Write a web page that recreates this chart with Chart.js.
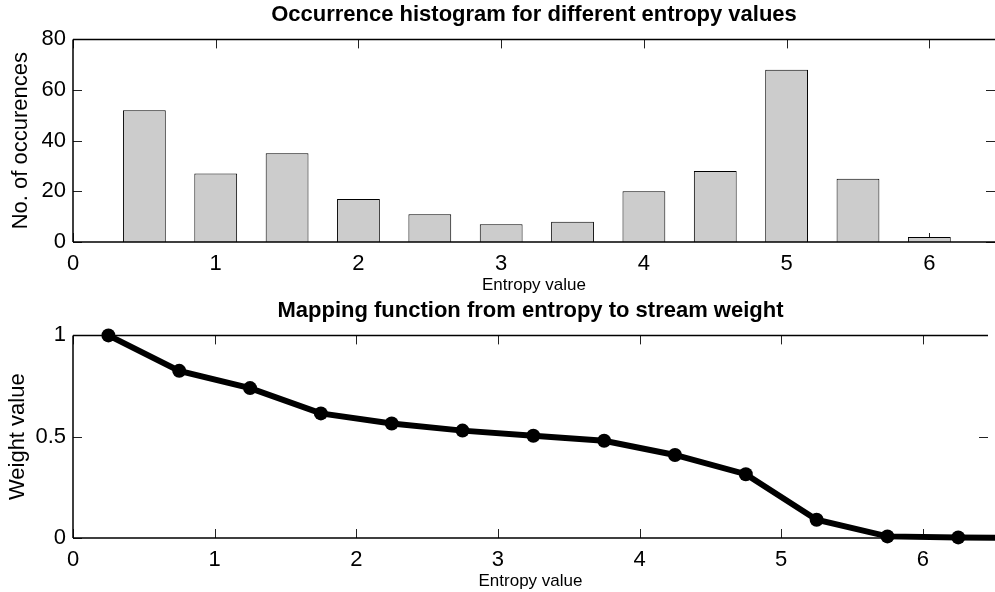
<!DOCTYPE html>
<html>
<head>
<meta charset="utf-8">
<script src="https://cdn.jsdelivr.net/npm/chart.js@4"></script>
<style>
  html, body { margin: 0; padding: 0; background: #fff; }
  #wrap { position: relative; width: 995px; height: 592px; }
  .painel { position: absolute; left: 0; width: 995px; height: 296px; }
</style>
</head>
<body>
<div id="wrap">
  <div class="painel" style="top:0"><canvas id="g-hist"></canvas></div>
  <div class="painel" style="top:296px"><canvas id="g-peso"></canvas></div>
</div>
<script>
// ===== Dados =====
const centrosHist = [0.5, 1, 1.5, 2, 2.5, 3, 3.5, 4, 4.5, 5, 5.5, 6];
const ocorrencias = [52, 27, 35, 17, 11, 7, 8, 20, 28, 68, 25, 2];

const entropiaPeso = [0.25, 0.75, 1.25, 1.75, 2.25, 2.75, 3.25, 3.75, 4.25, 4.75, 5.25, 5.75, 6.25, 6.75];
const pesos = [1, 0.825, 0.74, 0.615, 0.565, 0.53, 0.505, 0.48, 0.41, 0.315, 0.09, 0.008, 0.003, 0];

const ticksX = [0, 1, 2, 3, 4, 5, 6];
const ticksHist = [0, 20, 40, 60, 80];
const ticksPeso = [0, 0.5, 1];

const FONTE = "'Liberation Sans', Arial, Helvetica, sans-serif";
Chart.defaults.font.family = FONTE;
Chart.defaults.color = "#000";

// ===== Moldura estilo matlab (caixa + ticks para dentro) =====
const moldura = {
  id: "moldura",
  beforeDatasetsDraw(chart) {
    const { ctx, chartArea: a, scales: { x, y } } = chart;
    const T = 9;
    ctx.save();
    ctx.strokeStyle = "#222";
    ctx.lineWidth = 1;
    ctx.beginPath();
    x.ticks.forEach(t => {
      const px = Math.round(x.getPixelForValue(t.value)) + 0.5;
      ctx.moveTo(px, a.bottom); ctx.lineTo(px, a.bottom - T);
      ctx.moveTo(px, a.top); ctx.lineTo(px, a.top + T);
    });
    y.ticks.forEach(t => {
      const py = Math.round(y.getPixelForValue(t.value)) + 0.5;
      ctx.moveTo(a.left, py); ctx.lineTo(a.left + T, py);
      ctx.moveTo(a.right, py); ctx.lineTo(a.right - T, py);
    });
    ctx.stroke();
    ctx.restore();
  },
  afterDatasetsDraw(chart) {
    const { ctx, chartArea: a } = chart;
    ctx.save();
    ctx.strokeStyle = "#000";
    ctx.lineWidth = 1.5;
    ctx.beginPath();
    ctx.moveTo(a.left, a.top); ctx.lineTo(a.right, a.top);
    ctx.moveTo(a.left, a.top); ctx.lineTo(a.left, a.bottom);
    ctx.moveTo(a.left, a.bottom); ctx.lineTo(a.right, a.bottom);
    ctx.stroke();
    ctx.restore();
  }
};

function opcoes(titulo, rotuloY, ticksY, minY, maxY, padTituloY) {
  return {
    responsive: true,
    maintainAspectRatio: false,
    animation: false,
    events: [],
    layout: { padding: 0 },
    plugins: {
      legend: { display: false },
      tooltip: { enabled: false },
      title: {
        display: true, text: titulo, fullSize: false,
        font: { size: 22, weight: "bold" }, color: "#000",
        padding: { top: 2, bottom: 11 }
      }
    },
    scales: {
      x: {
        type: "linear", min: 0, max: 6.46, offset: false,
        grid: { display: false, drawTicks: false }, border: { display: false },
        afterBuildTicks: s => { s.ticks = ticksX.map(v => ({ value: v })); },
        afterFit: s => { s.height = 54; },
        ticks: { font: { size: 22 }, padding: 9, color: "#000", maxRotation: 0, callback: v => String(v) },
        title: { display: true, text: "Entropy value", font: { size: 17 }, color: "#000", padding: { top: 0, bottom: 0 } }
      },
      y: {
        type: "linear", min: minY, max: maxY,
        grid: { display: false, drawTicks: false }, border: { display: false },
        afterBuildTicks: s => { s.ticks = ticksY.map(v => ({ value: v })); },
        afterFit: s => { s.width = 73; },
        ticks: { font: { size: 22 }, padding: 7, color: "#000", callback: v => String(v) },
        title: { display: true, text: rotuloY, font: { size: 22 }, color: "#000", padding: { top: padTituloY, bottom: 0 } }
      }
    }
  };
}

// ===== Histograma =====
new Chart(document.getElementById("g-hist"), {
  type: "bar",
  data: {
    datasets: [{
      data: centrosHist.map((c, i) => ({ x: c, y: ocorrencias[i] })),
      backgroundColor: "#cccccc",
      borderColor: "#000",
      borderWidth: 1,
      barPercentage: 0.6,
      categoryPercentage: 1
    }]
  },
  options: opcoes("Occurrence histogram for different entropy values", "No. of occurences", ticksHist, 0, 80, 8),
  plugins: [moldura]
});

// ===== Funcao de mapeamento =====
new Chart(document.getElementById("g-peso"), {
  type: "line",
  data: {
    datasets: [{
      data: entropiaPeso.map((e, i) => ({ x: e, y: pesos[i] })),
      borderColor: "#000",
      borderWidth: 6,
      pointRadius: 7,
      pointBackgroundColor: "#000",
      pointBorderColor: "#000",
      pointBorderWidth: 0,
      tension: 0,
      clip: false
    }]
  },
  options: opcoes("Mapping function from entropy to stream weight", "Weight value", ticksPeso, 0, 1, 5),
  plugins: [moldura]
});
</script>
</body>
</html>
